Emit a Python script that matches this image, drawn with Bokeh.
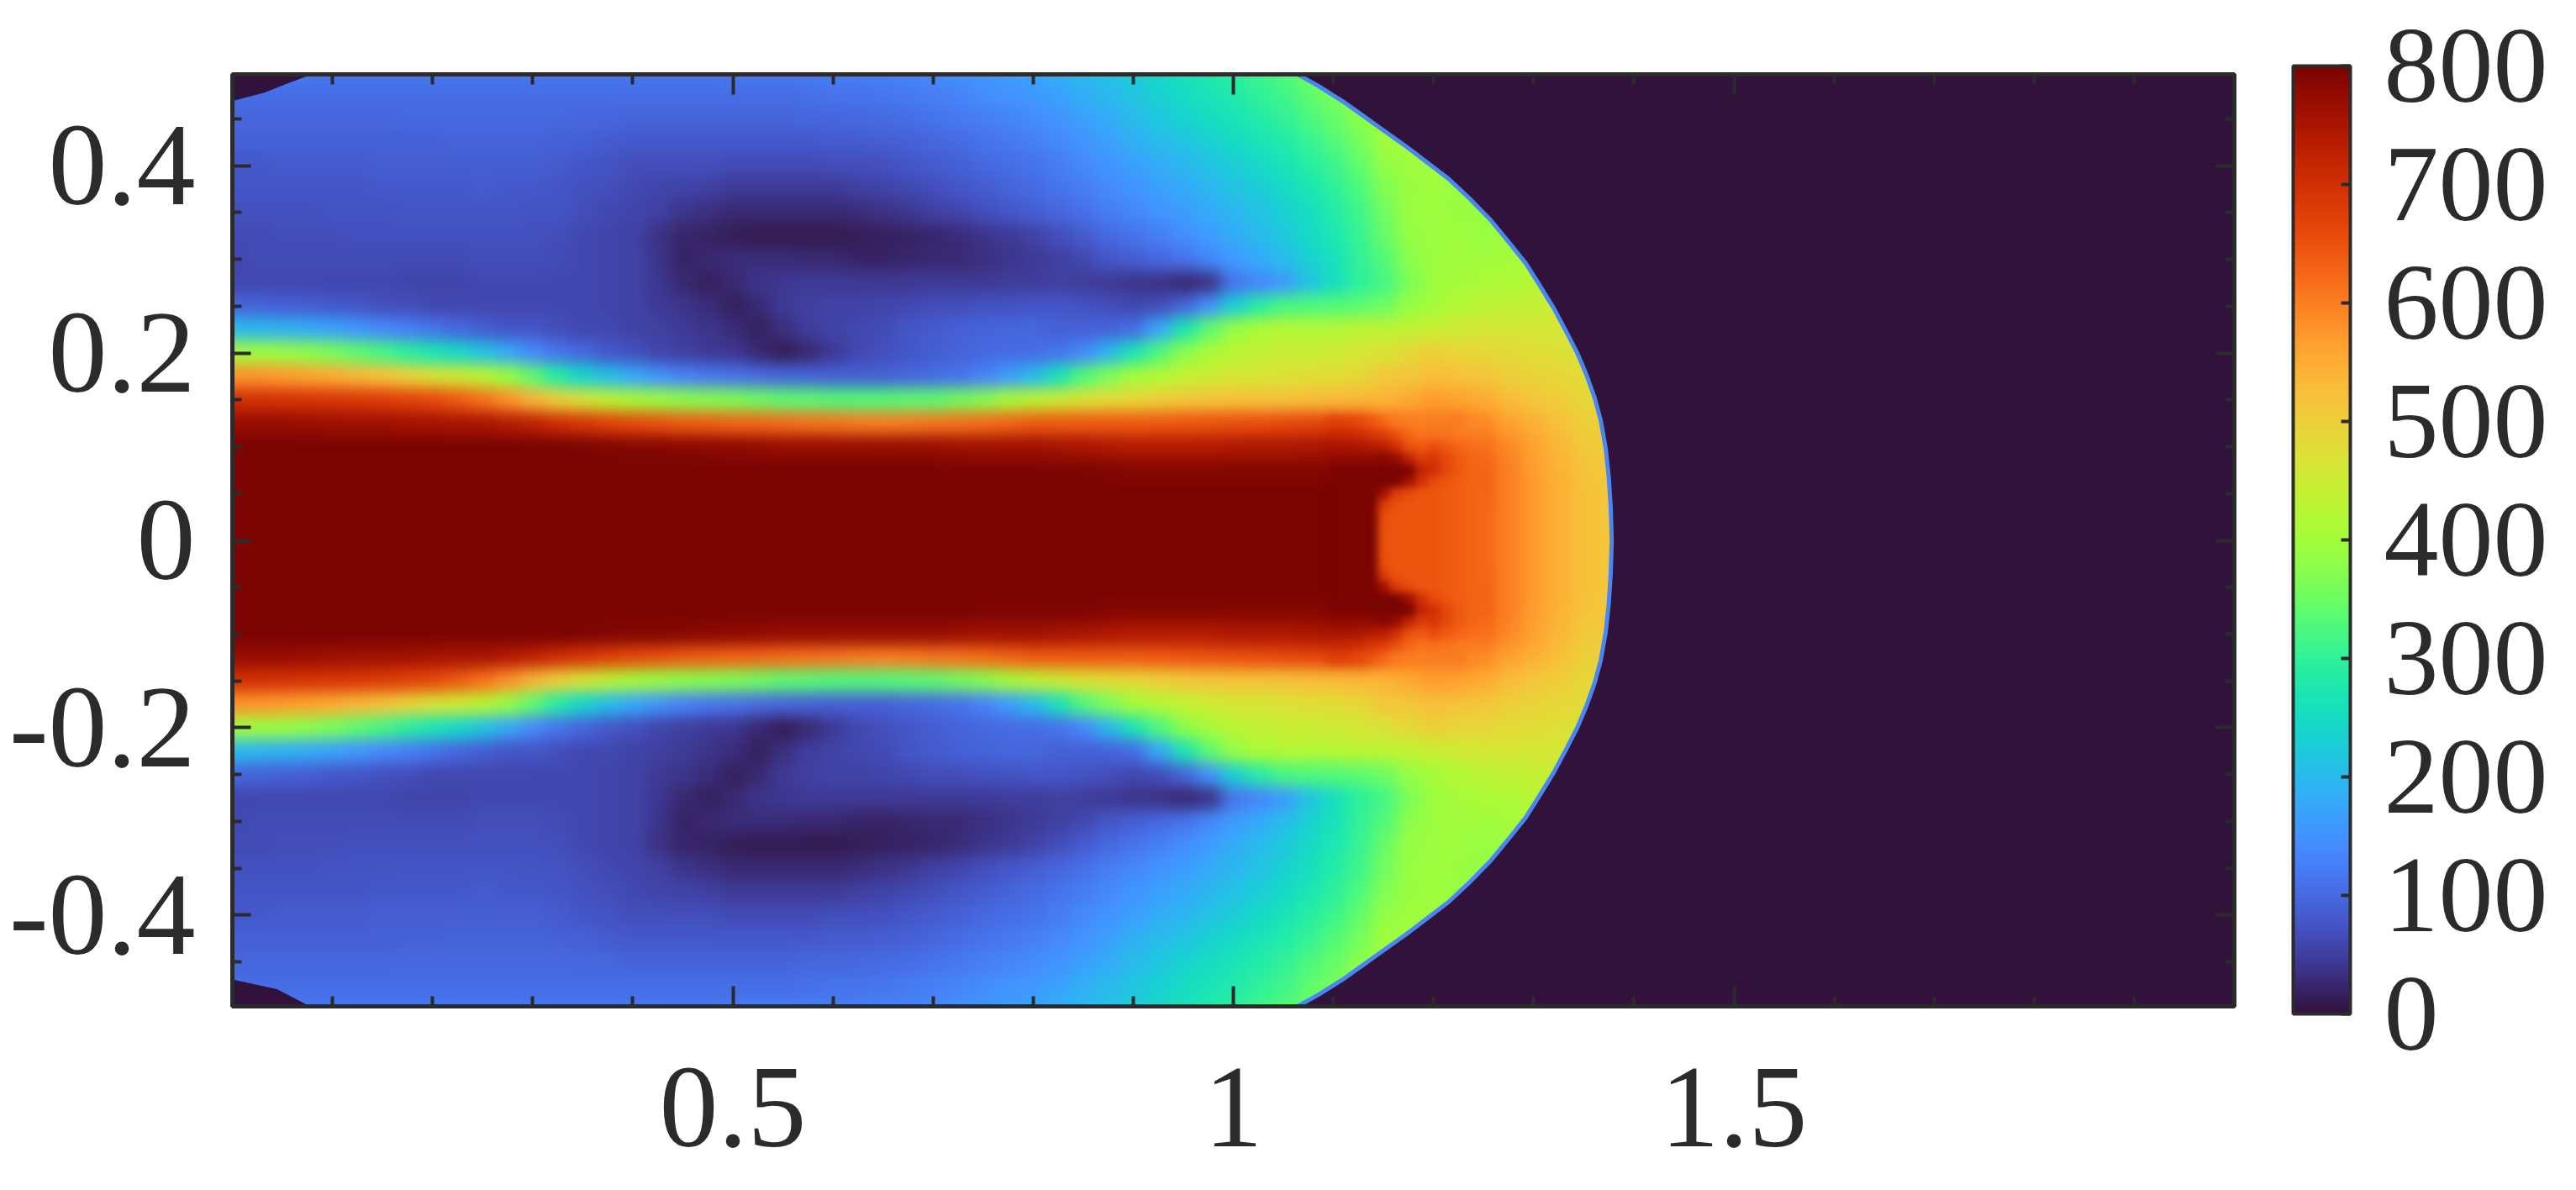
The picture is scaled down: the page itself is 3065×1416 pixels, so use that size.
from bokeh.plotting import figure
from bokeh.embed import file_html
from bokeh.resources import INLINE
from bokeh.models import (ColorBar, FixedTicker, LinearAxis, LinearColorMapper, Range1d)
from bokeh.palettes import Turbo256
import numpy as np

x_step = 0.025
y_step = 0.025
# upper half, y = 0, 0.025, ... 0.5, one row per x station (x = 0, 0.025, ... 1.4)
density_upper = [
[800,800,800,800,800,770,700,580,400,200,95,60,62,65,70,75,80,88,95,105,118],
[800,800,800,800,800,770,698,575,395,195,92,61,63,65,70,76,81,88,96,106,118],
[800,800,800,800,800,770,695,570,390,190,90,62,64,66,70,76,82,88,96,106,118],
[800,800,800,800,800,768,692,560,375,180,85,62,64,67,71,76,82,89,96,106,117],
[800,800,800,800,800,765,690,550,360,170,80,62,65,68,72,77,83,90,96,105,116],
[800,800,800,800,800,762,685,535,340,155,75,60,65,69,73,78,84,90,96,105,116],
[800,800,800,800,800,760,680,520,320,140,70,60,65,70,74,79,85,90,96,105,116],
[800,800,800,800,800,758,670,495,295,125,66,59,64,70,75,80,85,90,97,105,116],
[800,800,800,800,800,755,660,470,270,110,62,58,64,70,75,80,85,90,97,106,116],
[800,800,800,800,800,752,640,450,245,97,61,59,65,70,76,81,86,91,97,106,116],
[800,800,800,800,800,750,615,425,215,85,60,60,66,70,76,82,86,92,98,106,116],
[800,800,800,800,800,740,580,385,175,78,60,61,66,70,75,81,86,92,98,106,116],
[800,800,800,800,800,725,540,340,140,75,60,62,66,70,74,80,86,92,98,106,116],
[800,800,800,800,798,705,500,285,115,68,60,61,64,68,72,76,82,90,98,106,116],
[800,800,800,800,795,690,465,240,95,62,60,60,60,62,66,70,78,88,96,105,116],
[800,800,800,800,792,672,430,205,80,60,57,57,57,59,62,66,74,84,94,105,116],
[800,800,800,800,790,660,405,175,70,55,55,54,55,56,58,62,68,80,92,104,116],
[800,800,800,800,788,650,390,150,58,50,46,43,40,36,50,58,68,80,92,104,116],
[800,800,800,800,785,640,375,130,50,46,40,28,20,22,40,55,67,80,92,104,117],
[800,800,800,800,782,635,370,118,45,40,30,18,25,20,32,50,66,80,92,104,118],
[800,800,800,800,780,630,365,110,42,30,16,28,30,15,28,46,65,80,92,104,119],
[800,800,800,800,775,625,352,100,28,18,28,40,30,12,26,45,64,80,92,105,120],
[800,800,800,800,770,620,340,95,15,32,45,42,30,12,25,44,64,80,93,106,121],
[800,800,800,800,770,615,335,92,25,48,52,44,28,12,25,44,65,80,94,108,122],
[800,800,800,800,770,610,330,90,45,55,55,45,25,12,26,46,66,82,96,110,124],
[800,800,800,800,770,605,330,90,60,60,55,45,20,14,30,50,68,84,98,112,127],
[800,800,800,800,770,600,330,90,70,65,58,45,20,16,35,54,70,86,100,115,130],
[800,800,800,800,770,605,335,95,78,75,62,45,22,20,42,60,75,90,104,120,134],
[800,800,800,800,770,610,340,100,85,82,66,45,25,24,50,68,82,96,110,126,140],
[800,800,800,798,765,615,355,112,92,88,68,45,28,30,58,76,90,103,118,134,148],
[800,800,800,795,760,620,370,130,98,92,72,45,32,38,68,84,97,110,125,142,155],
[800,800,800,795,760,630,400,165,102,95,74,47,38,45,76,92,104,118,132,150,163],
[800,800,800,795,760,640,430,200,105,95,76,48,44,55,85,100,112,127,142,158,172],
[800,800,800,795,755,640,450,265,115,90,78,50,52,68,95,110,124,138,153,170,185],
[800,800,800,795,750,640,470,330,140,88,72,48,62,82,108,124,138,152,168,185,197],
[800,800,800,792,745,640,480,365,195,92,68,45,75,98,122,138,152,168,183,198,210],
[800,800,800,790,740,640,490,400,270,105,60,40,85,112,136,152,168,185,200,215,226],
[800,800,800,790,740,642,500,420,325,175,68,35,97,128,150,166,182,200,218,232,245],
[800,800,800,790,740,645,510,440,375,270,95,25,112,145,165,180,195,215,235,250,262],
[800,800,800,790,740,648,515,450,405,340,150,35,135,162,180,196,212,232,250,265,280],
[800,800,800,790,745,650,520,460,425,385,230,115,160,182,195,212,228,248,265,280,296],
[800,800,800,790,745,655,520,465,435,410,290,135,180,198,212,228,245,264,282,298,313],
[800,800,800,790,745,660,520,470,445,420,320,160,205,220,232,248,265,282,300,315,330],
[800,800,800,790,748,665,525,475,445,420,325,210,232,245,256,270,288,305,322,338,352],
[800,800,800,790,750,670,530,480,450,420,330,255,262,272,282,296,312,330,345,360,372],
[800,800,800,785,745,660,535,490,460,425,340,295,300,305,315,328,342,358,372,385,395],
[800,800,795,770,710,620,540,510,470,430,350,320,330,345,355,368,382,395,405,410,415],
[700,700,700,710,690,600,555,515,485,435,385,365,375,385,390,393,395,400,405,410,415],
[645,645,645,670,660,600,570,525,500,445,405,395,395,395,395,395,395,395,400,400,400],
[635,635,635,645,640,605,560,520,490,450,420,405,398,395,392,390,390,390,390,390,390],
[622,622,625,625,615,585,550,515,488,460,430,410,398,390,385,385,385,385,385,385,385],
[598,598,598,598,590,565,530,500,482,460,435,412,400,395,395,395,395,395,395,395,395],
[570,570,570,568,560,545,515,495,478,460,440,425,420,420,420,420,420,420,420,420,420],
[545,545,545,543,535,522,505,490,472,460,450,445,445,445,445,445,445,445,445,445,445],
[522,522,522,520,510,500,490,480,470,460,460,460,460,460,460,460,460,460,460,460,460],
[515,515,515,512,506,500,490,480,470,460,460,460,460,460,460,460,460,460,460,460,460],
[510,510,510,510,505,500,490,480,470,460,460,460,460,460,460,460,460,460,460,460,460],
]

# finer reading of the jet head: x = 1.1, 1.1125 ... 1.25; y = 0, 0.0125 ... 0.125
head_x0 = 1.10
head_step = 0.0125
density_head = [
[800,800,800,800,800,800,795,775,750,715,672],
[800,800,800,800,800,800,795,775,750,712,670],
[800,800,800,800,800,800,795,775,745,705,662],
[800,800,800,800,800,800,795,775,735,690,645],
[650,650,655,680,760,800,800,785,730,675,622],
[645,645,645,650,680,800,800,770,700,650,605],
[645,645,645,645,660,760,800,720,650,625,600],
[645,645,645,645,645,700,720,680,640,610,598],
[645,645,645,645,645,660,700,690,655,615,600],
[640,640,640,640,640,645,665,660,640,610,600],
[635,635,635,635,635,635,642,638,625,605,600],
[630,630,630,630,630,630,630,628,618,600,590],
[622,622,622,624,625,625,625,620,615,600,585],
]

# bow shock outline, top of frame to bottom of frame
shock_upper_x = [1.060,1.085,1.109,1.130,1.151,1.172,1.193,1.215,1.235,1.257,1.277,1.292,1.305,1.320,1.333,1.344,1.353,1.361,1.367,1.372,1.375,1.377,1.378]
shock_upper_y = [0.50,0.485,0.469,0.453,0.437,0.421,0.404,0.386,0.366,0.342,0.316,0.296,0.274,0.248,0.222,0.199,0.176,0.152,0.128,0.098,0.068,0.035,0.0]
shock_x = shock_upper_x + shock_upper_x[-2::-1]
shock_y = shock_upper_y + [-v for v in shock_upper_y[-2::-1]]
outside_x = [2.02,2.02]
outside_y = [-0.52,0.52]

# ambient corners at the inlet
corner_top_x = [-0.01,0.0,0.032,0.059,0.086,-0.01]
corner_top_y = [0.469,0.469,0.478,0.4895,0.50,0.50]
corner_bot_x = [-0.01,0.0,0.0445,0.082,-0.01]
corner_bot_y = [-0.4687,-0.4687,-0.479,-0.50,-0.50]

x_major = [0.5,1,1.5]
x_minor = [0.1,0.2,0.3,0.4,0.6,0.7,0.8,0.9,1.1,1.2,1.3,1.4,1.6,1.7,1.8,1.9]
y_major = [-0.4,-0.2,0,0.2,0.4]
y_minor = [-0.45,-0.35,-0.3,-0.25,-0.15,-0.1,-0.05,0.05,0.1,0.15,0.25,0.3,0.35,0.45]
cbar_ticks = [0,100,200,300,400,500,600,700,800]

INK = "#2b2b2b"
AMBIENT = "#30123b"
FONT = "'Liberation Serif', 'Times New Roman', serif"

upper = np.array(density_upper, dtype=float).T
field = np.pad(np.vstack([upper[:0:-1], upper]), 3, mode="edge")
head_upper = np.array(density_head, dtype=float).T
head = np.vstack([head_upper[:0:-1], head_upper])

p = figure(frame_width=2382, frame_height=1109, output_backend="svg", toolbar_location=None,
           x_range=Range1d(0, 2), y_range=Range1d(-0.4975, 0.4975),
           x_axis_location=None, y_axis_location=None,
           min_border_left=276, min_border_top=88, min_border_right=391, min_border_bottom=203,
           background_fill_color=AMBIENT, border_fill_color="white")
p.grid.visible = False
p.outline_line_color = INK
p.outline_line_width = 5

mapper = LinearColorMapper(palette=Turbo256, low=0, high=800)
p.image(image=[field], x=-x_step/2-3*x_step, y=-0.5-y_step/2-3*y_step,
        dw=x_step*field.shape[1], dh=y_step*field.shape[0], color_mapper=mapper)
p.image(image=[head], x=head_x0-head_step/2, y=-head_step*(head_upper.shape[0]-0.5),
        dw=head_step*head.shape[1], dh=head_step*head.shape[0], color_mapper=mapper)

p.patch(shock_x + outside_x, shock_y + outside_y, fill_color=AMBIENT, line_color=None)
p.line(shock_x, shock_y, line_color="#4a86f0", line_width=5, line_join="round")
p.patch(corner_top_x, corner_top_y, fill_color=AMBIENT, line_color=None)
p.patch(corner_bot_x, corner_bot_y, fill_color=AMBIENT, line_color=None)

def style(ax, major, minor, labels, inner):
    ax.ticker = FixedTicker(ticks=major, minor_ticks=minor)
    ax.axis_line_color = INK
    ax.axis_line_width = 5
    ax.major_tick_line_color = INK
    ax.minor_tick_line_color = INK
    ax.major_tick_line_width = 4
    ax.minor_tick_line_width = 4
    ax.major_tick_out = 0
    ax.minor_tick_out = 0
    ax.major_tick_in = inner
    ax.minor_tick_in = inner // 2
    if labels:
        ax.major_label_text_font = FONT
        ax.major_label_text_font_size = "140px"
        ax.major_label_text_color = INK
        ax.major_label_overrides = labels
    else:
        ax.major_label_text_font_size = "0px"
        ax.major_label_text_color = None

xlab = {0.5: "0.5", 1: "1", 1.5: "1.5"}
ylab = {-0.4: "-0.4", -0.2: "-0.2", 0: "0", 0.2: "0.2", 0.4: "0.4"}

xb = LinearAxis(); style(xb, x_major, x_minor, xlab, 24); xb.major_label_standoff = 74
xt = LinearAxis(); style(xt, x_major, x_minor, None, 24)
yl = LinearAxis(); style(yl, y_major, y_minor, ylab, 22); yl.major_label_standoff = 44
yl.major_label_orientation = "horizontal"
yr = LinearAxis(); style(yr, y_major, y_minor, None, 22)
p.add_layout(xb, "below"); p.add_layout(xt, "above")
p.add_layout(yl, "left"); p.add_layout(yr, "right")

cb = ColorBar(color_mapper=mapper, ticker=FixedTicker(ticks=cbar_ticks),
              width=68, height=1128, location=(70, -9),
              major_label_text_font=FONT, major_label_text_font_size="130px",
              major_label_text_color=INK, label_standoff=40,
              major_tick_line_color=INK, major_tick_line_width=4, major_tick_in=11, major_tick_out=0,
              minor_tick_line_color=None, bar_line_color=INK, bar_line_width=4,
              border_line_color=None, background_fill_color=None, padding=0, margin=0)
p.add_layout(cb, "right")

# Bokeh's SVG export writes images with hard pixel edges; the reference field is continuous.
SMOOTH = """<script>
(function(){
function walk(r,o){r.querySelectorAll('*').forEach(function(e){if(e.shadowRoot)walk(e.shadowRoot,o);if(e.tagName.toLowerCase()==='image')o.push(e);});return o;}
var n=0,t=setInterval(function(){walk(document,[]).forEach(function(e){var w=parseFloat(e.getAttribute('width'))||0;
if(w>1000)e.style.filter='blur(9px)';else if(w>100)e.style.filter='blur(5px)';});if(++n>400)clearInterval(t);},25);
})();
</script>"""
html = file_html(p, INLINE).replace("</body>", SMOOTH + "</body>")
open("out.html", "w").write(html)
